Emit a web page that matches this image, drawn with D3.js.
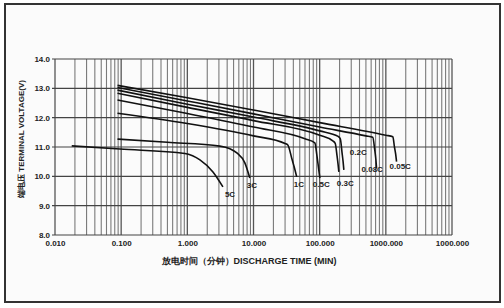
<!DOCTYPE html>
<html>
<head>
<meta charset="utf-8">
<script src="https://cdn.jsdelivr.net/npm/d3@7"></script>
<style>
  html, body { margin: 0; padding: 0; background: #ffffff; }
  svg { display: block; }
  text { font-family: "Liberation Sans", Arial, sans-serif; font-weight: bold; fill: #222; }
</style>
</head>
<body>
<svg id="chart" width="504" height="308"></svg>
<script>
// Discharge time (min) tick values and their printed labels
const xTickValues = [0.01, 0.1, 1, 10, 100, 1000, 10000];
const xTickLabels = ["0.010", "0.100", "1.000", "10.000", "100.000", "1000.000", "1000.000"];
// Terminal voltage ticks (V)
const yTickValues = [8, 9, 10, 11, 12, 13, 14];

// Discharge rates
const rates = ["0.05C", "0.08C", "0.2C", "0.3C", "0.5C", "1C", "3C", "5C"];

// Voltage curves: [time (min), voltage (V)]
const curve005 = [[0.088, 13.10], [1, 12.68], [10, 12.26], [100, 11.83], [1000, 11.40], [1276, 11.35], [1350, 11.0], [1410, 10.75], [1452, 10.50]];
const curve008 = [[0.088, 13.03], [1, 12.57], [10, 12.13], [100, 11.68], [500, 11.38], [634, 11.33], [680, 10.9], [705, 10.6], [724, 10.28]];
const curve02  = [[0.088, 12.94], [1, 12.46], [10, 12.02], [100, 11.55], [190, 11.36], [205, 11.28], [218, 10.8], [226, 10.5], [232, 10.22]];
const curve03  = [[0.088, 12.83], [1, 12.35], [10, 11.90], [100, 11.40], [160, 11.20], [172, 11.12], [183, 10.7], [190, 10.4], [195, 10.15]];
const curve05  = [[0.088, 12.60], [1, 12.14], [10, 11.68], [60, 11.28], [84.5, 11.14], [91, 10.7], [96, 10.3], [100.7, 9.94]];
const curve1C  = [[0.088, 12.15], [1, 11.80], [10, 11.38], [30, 11.12], [33, 11.07], [38, 10.6], [42, 10.25], [45, 9.98]];
const curve3C  = [[0.088, 11.27], [0.5, 11.16], [3.1, 11.03], [4.4, 10.94], [5.6, 10.80], [7.4, 10.46], [8.8, 9.94]];
const curve5C  = [[0.0179, 11.04], [0.096, 10.93], [0.92, 10.78], [1.2, 10.70], [1.55, 10.56], [2.44, 10.15], [3.45, 9.64]];

const curves = [curve005, curve008, curve02, curve03, curve05, curve1C, curve3C, curve5C];

const svg = d3.select("#chart");
const W = 504, H = 308;

// Outer frame
svg.append("rect").attr("x", 0).attr("y", 0).attr("width", W).attr("height", H).attr("fill", "#ffffff");
svg.append("rect")
  .attr("x", 5).attr("y", 4).attr("width", 495).attr("height", 298)
  .attr("fill", "#fbfbfb").attr("stroke", "#333").attr("stroke-width", 2);

const x = d3.scaleLog().domain([0.01, 10000]).range([55, 452]);
const y = d3.scaleLinear().domain([8, 14]).range([235, 59]);

// Vertical log grid: 1..9 within every decade
const gridX = [];
for (let d = -2; d < 4; d++) {
  for (let m = 1; m <= 9; m++) gridX.push(m * Math.pow(10, d));
}
gridX.push(10000);

const isDecade = d => Math.abs(Math.log10(d) - Math.round(Math.log10(d))) < 1e-9;

const grid = svg.append("g");
grid.selectAll("line.v").data(gridX).join("line")
  .attr("class", "v")
  .attr("x1", d => x(d)).attr("x2", d => x(d))
  .attr("y1", y(14)).attr("y2", y(8))
  .attr("stroke", d => isDecade(d) ? "#555" : "#7a7a7a")
  .attr("stroke-width", d => isDecade(d) ? 1.3 : 1.1);

grid.selectAll("line.h").data(yTickValues).join("line")
  .attr("class", "h")
  .attr("x1", x(0.01) - 3).attr("x2", x(10000))
  .attr("y1", d => y(d)).attr("y2", d => y(d))
  .attr("stroke", "#444").attr("stroke-width", 1.1);

// Axes labels
const yAxis = d3.axisLeft(y).tickValues(yTickValues).tickFormat(d3.format(".1f")).tickSize(0).tickPadding(5);
const gy = svg.append("g").attr("transform", `translate(${x(0.01)},0)`).call(yAxis);
gy.select(".domain").remove();
gy.selectAll("text").attr("font-size", 8).attr("fill", "#222")
  .attr("font-family", "Liberation Sans, Arial, sans-serif").attr("font-weight", "bold");

const xAxis = d3.axisBottom(x).tickValues(xTickValues)
  .tickFormat((d, i) => xTickLabels[i]).tickSize(0).tickPadding(5);
const gx = svg.append("g").attr("transform", `translate(0,${y(8)})`).call(xAxis);
gx.select(".domain").remove();
gx.selectAll("text").attr("font-size", 8).attr("fill", "#222")
  .attr("font-family", "Liberation Sans, Arial, sans-serif").attr("font-weight", "bold");

// Axis titles
svg.append("text")
  .attr("transform", "translate(24,139) rotate(-90)")
  .attr("text-anchor", "middle").attr("font-size", 8).attr("fill", "#222")
  .text("端电压 TERMINAL VOLTAGE(V)");

svg.append("text")
  .attr("x", 249).attr("y", 264)
  .attr("text-anchor", "middle").attr("font-size", 9).attr("fill", "#222")
  .text("放电时间（分钟）DISCHARGE TIME (MIN)");

// Discharge curves
const line = d3.line()
  .x(d => x(d[0])).y(d => y(d[1]))
  .curve(d3.curveMonotoneX);

svg.append("g").selectAll("path").data(curves).join("path")
  .attr("d", line)
  .attr("fill", "none").attr("stroke", "#111").attr("stroke-width", 1.6)
  .attr("stroke-linejoin", "round");

// Rate labels, placed from each curve's end point
const labelOffsets = {
  "0.05C": [-7, 7],
  "0.08C": [-15, 4],
  "0.2C": [6, -15],
  "0.3C": [-2, 14],
  "0.5C": [-7, 9],
  "1C": [-3, 10],
  "3C": [-3, 10],
  "5C": [2, 10]
};
svg.append("g").selectAll("text").data(rates).join("text")
  .attr("x", (r, i) => { const e = curves[i][curves[i].length - 1]; return x(e[0]) + labelOffsets[r][0]; })
  .attr("y", (r, i) => { const e = curves[i][curves[i].length - 1]; return y(e[1]) + labelOffsets[r][1]; })
  .attr("text-anchor", "start")
  .attr("font-size", 8).attr("fill", "#222")
  .text(r => r);
</script>
</body>
</html>
